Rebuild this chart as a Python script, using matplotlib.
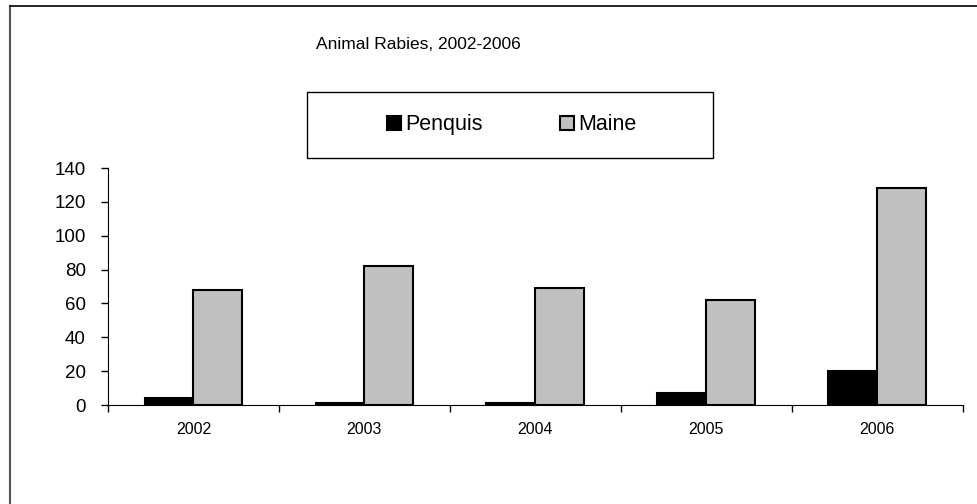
import numpy as np
import matplotlib.pyplot as plt
from matplotlib.patches import Rectangle

plt.rcParams['font.family'] = ['Liberation Sans', 'DejaVu Sans']

years = ["2002", "2003", "2004", "2005", "2006"]
penquis = [4, 1, 1, 7, 20]
maine = [68, 82, 69, 62, 128]

fig = plt.figure(figsize=(9.77, 5.04), dpi=100)
ax = fig.add_axes([0.1105, 0.1964, 0.875, 0.4702])

x = np.arange(len(years))
w = 0.286
ax.bar(x - w/2, penquis, w, color='black', edgecolor='black', linewidth=1.5, label='Penquis')
ax.bar(x + w/2, maine, w, color='#c0c0c0', edgecolor='black', linewidth=1.5, label='Maine')

ax.set_xlim(-0.5, len(years) - 0.5)
ax.set_ylim(0, 140)
ax.set_yticks(np.arange(0, 141, 20))
ax.set_xticks(x)
ax.set_xticklabels(years)
# category boundary ticks
ax.set_xticks(np.arange(-0.5, len(years), 1), minor=True)
ax.tick_params(axis='x', which='major', length=0, pad=12, labelsize=11.5)
ax.tick_params(axis='x', which='minor', length=5, width=1)
ax.tick_params(axis='y', length=5, width=1, labelsize=13.5, pad=11)
ax.spines['top'].set_visible(False)
ax.spines['right'].set_visible(False)

fig.text(0.428, 0.912, "Animal Rabies, 2002-2006", ha='center', va='center', fontsize=12.5)

# legend box
fig.patches.append(Rectangle((0.3142, 0.6865), 0.4156, 0.131, transform=fig.transFigure,
                             facecolor='white', edgecolor='black', linewidth=1))
fig.legend(loc='center', bbox_to_anchor=(0.524, 0.752), ncol=2, frameon=False,
           fontsize=15.5, handlelength=0.65, handleheight=0.65, handletextpad=0.2,
           columnspacing=3.6)

# outer frame (left and top edges visible)
fig.add_artist(plt.Line2D([0.0105, 0.0105], [0, 0.988], transform=fig.transFigure, color='#555555', linewidth=1.5))
fig.add_artist(plt.Line2D([0.0105, 1], [0.988, 0.988], transform=fig.transFigure, color='black', linewidth=1.2))

fig.savefig('out.png', dpi=100)
